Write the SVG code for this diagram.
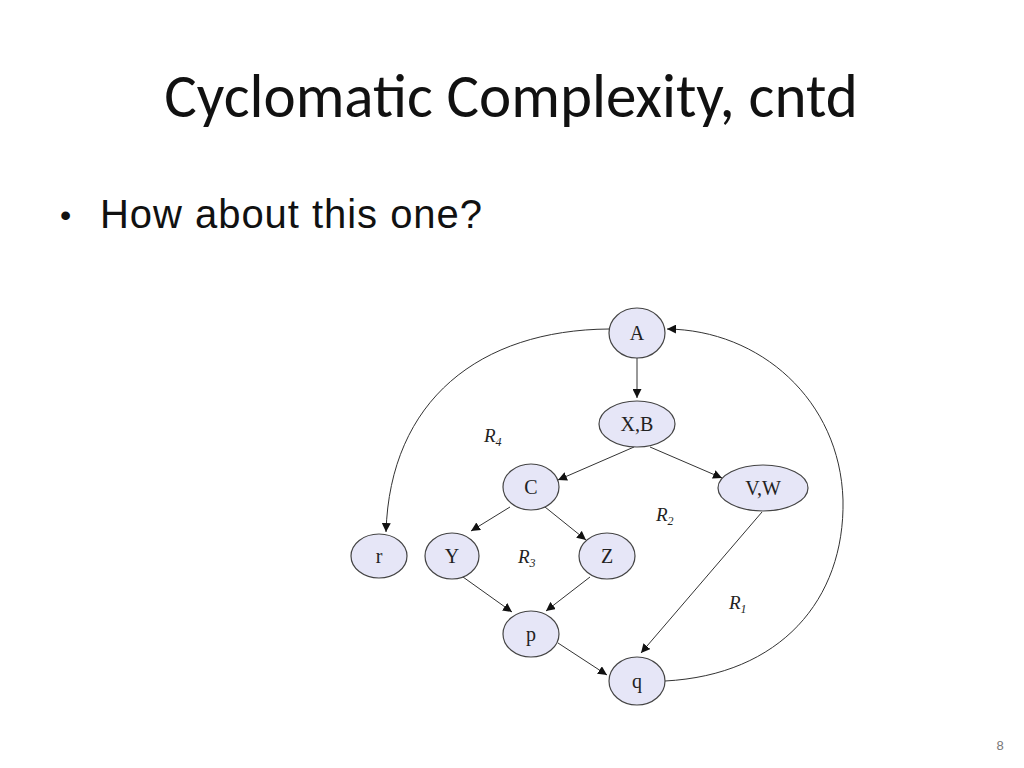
<svg xmlns="http://www.w3.org/2000/svg" width="1024" height="768" viewBox="0 0 1024 768">
<style>
.n{fill:#e6e6f7;stroke:#444;stroke-width:1.2}
.t{font-family:"Liberation Serif",serif;font-size:20px;fill:#222;text-anchor:middle}
.e{fill:none;stroke:#333;stroke-width:1}
.r{font-family:"Liberation Serif",serif;font-style:italic;font-size:19px;fill:#222}
.s{font-size:12px}
</style>
<defs><marker id="ar" viewBox="0 0 10 10" refX="10" refY="5" markerWidth="9" markerHeight="9" markerUnits="userSpaceOnUse" orient="auto"><path d="M0,0L10,5L0,10z" fill="#111"/></marker></defs>
<rect width="1024" height="768" fill="#fff"/>
<text x="511" y="117" font-family="Calibri,'Carlito','Liberation Sans',sans-serif" font-size="61" text-anchor="middle" fill="#111">Cyclomatic Complexity, cntd</text>
<text x="60" y="226" font-family="'Liberation Sans',sans-serif" font-size="32" fill="#111">•</text>
<text x="100" y="228" font-family="'Liberation Sans',sans-serif" font-size="40" fill="#111" textLength="382">How about this one?</text>
<text x="1000" y="750" font-family="'Liberation Sans',sans-serif" font-size="13" fill="#777" text-anchor="middle">8</text>
<g id="connectors">
<path class="e" d="M609,329 C480,330 390,400 386,532" marker-end="url(#ar)"/>
<path class="e" d="M637,358 L637,398" marker-end="url(#ar)"/>
<path class="e" d="M634,447 L558,480" marker-end="url(#ar)"/>
<path class="e" d="M650,447 L722,478" marker-end="url(#ar)"/>
<path class="e" d="M510,507 L471,531" marker-end="url(#ar)"/>
<path class="e" d="M545,507 L586,540" marker-end="url(#ar)"/>
<path class="e" d="M463,577 L512,612" marker-end="url(#ar)"/>
<path class="e" d="M590,577 L546,611" marker-end="url(#ar)"/>
<path class="e" d="M558,643 L607,675" marker-end="url(#ar)"/>
<path class="e" d="M762,512 L641,653" marker-end="url(#ar)"/>
<path class="e" d="M665,681 C780,675 845,600 843,500 C840,400 760,330 667,329" marker-end="url(#ar)"/>
</g>
<g id="A"><ellipse class="n" cx="637" cy="333" rx="28" ry="25"/><text class="t" x="637" y="340">A</text></g>
<g id="XB"><ellipse class="n" cx="637" cy="424" rx="38" ry="23"/><text class="t" x="637" y="431">X,B</text></g>
<g id="C"><ellipse class="n" cx="531" cy="487" rx="28" ry="23"/><text class="t" x="531" y="494">C</text></g>
<g id="VW"><ellipse class="n" cx="763" cy="488" rx="45" ry="23"/><text class="t" x="763" y="495">V,W</text></g>
<g id="r"><ellipse class="n" cx="379" cy="556" rx="28" ry="22"/><text class="t" x="379" y="563">r</text></g>
<g id="Y"><ellipse class="n" cx="452" cy="556" rx="27" ry="23"/><text class="t" x="452" y="563">Y</text></g>
<g id="Z"><ellipse class="n" cx="607" cy="556" rx="28" ry="23"/><text class="t" x="607" y="563">Z</text></g>
<g id="p"><ellipse class="n" cx="531" cy="634" rx="28" ry="23"/><text class="t" x="531" y="641">p</text></g>
<g id="q"><ellipse class="n" cx="637" cy="681" rx="28" ry="24"/><text class="t" x="637" y="688">q</text></g>
<g id="regions">
<text class="r" x="484" y="442">R<tspan class="s" dy="4">4</tspan></text>
<text class="r" x="656" y="521">R<tspan class="s" dy="4">2</tspan></text>
<text class="r" x="518" y="563">R<tspan class="s" dy="4">3</tspan></text>
<text class="r" x="729" y="609">R<tspan class="s" dy="4">1</tspan></text>
</g>
</svg>
